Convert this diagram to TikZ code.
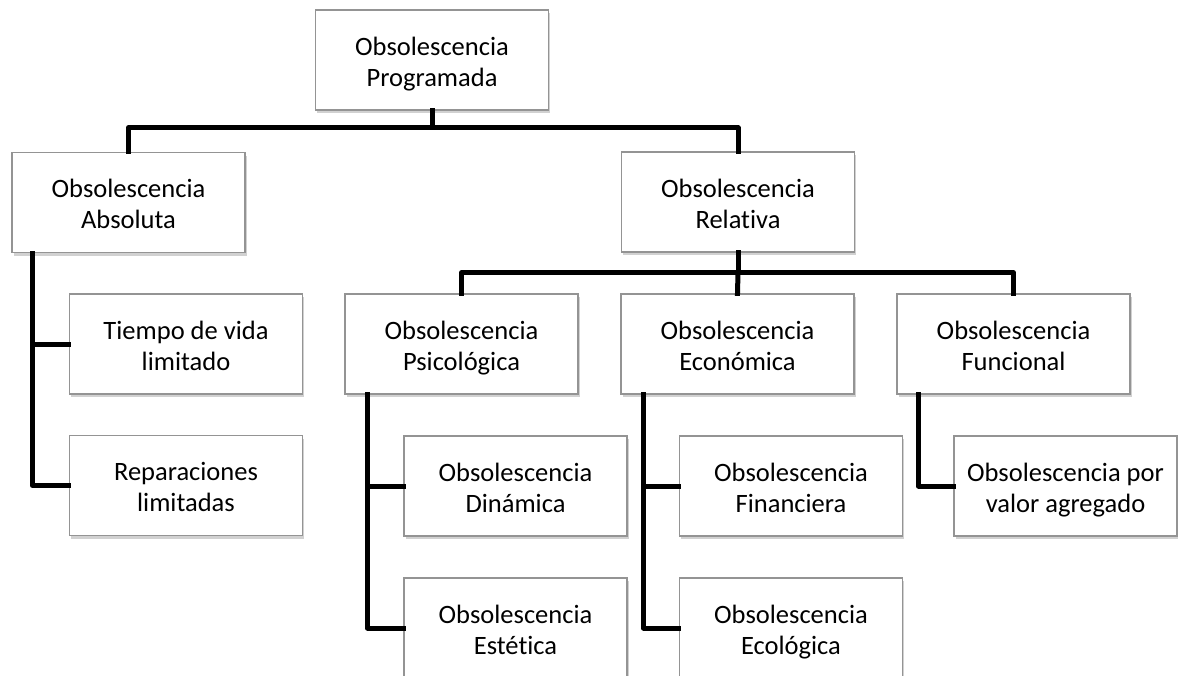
\documentclass[tikz,border=0pt]{standalone}
\usepackage{fontspec}
\setmainfont{Carlito}[RawFeature=-liga]
\usetikzlibrary{shadows}
\begin{document}
\begin{tikzpicture}[x=1pt,y=-1pt,
  box/.style={draw=black!42, line width=1.3pt, fill=white,
    minimum width=233pt, minimum height=100pt, align=center,
    inner sep=0pt, font=\fontsize{26.5}{31}\selectfont,
    text height=54pt, text depth=2pt,
    drop shadow={shadow xshift=1.5pt, shadow yshift=-3pt, opacity=0.3, fill=black!60}},
  narrow/.style={box, minimum width=223pt},
  link/.style={line width=5pt, line join=round, line cap=rect}]
\useasboundingbox (0,0) rectangle (1178,675);
\clip (0,0) rectangle (1178,675);

% hierarchy boxes
\node[box] (top) at (432,60) {Obsolescencia\\Programada};
\node[box] (abs) at (128.5,202.5) {Obsolescencia\\Absoluta};
\node[box] (rel) at (738,202) {Obsolescencia\\Relativa};
\node[box] (vida) at (186,344) {Tiempo de vida\\limitado};
\node[box] (rep) at (186,485.5) {Reparaciones\\limitadas};
\node[box] (psi) at (461.5,344) {Obsolescencia\\Psicológica};
\node[box] (eco) at (737.5,344) {Obsolescencia\\Económica};
\node[box] (fun) at (1013.5,344) {Obsolescencia\\Funcional};
\node[narrow] (din) at (515.5,486) {Obsolescencia\\Dinámica};
\node[narrow] (est) at (515.5,628) {Obsolescencia\\Estética};
\node[narrow] (fin) at (791,486) {Obsolescencia\\Financiera};
\node[narrow] (ecol) at (791,628) {Obsolescencia\\Ecológica};
\node[narrow] (val) at (1065.5,486) {Obsolescencia por\\valor agregado};

% first level bar
\draw[link] (top.south) -- ++(0,17) coordinate (b1) -| (abs.north);
\draw[link] (b1) -| (rel.north);

% second level bar
\draw[link] (rel.south) -- ++(0,20) coordinate (b2) -| (psi.north);
\draw[link] (b2) -| (fun.north);
\draw[link] (b2) -- (eco.north);

% side branches
\draw[link] ([xshift=21pt]abs.south west) |- (vida.west);
\draw[link] ([xshift=21pt]abs.south west) |- (rep.west);
\draw[link] ([xshift=23pt]psi.south west) |- (din.west);
\draw[link] ([xshift=23pt]psi.south west) |- (est.west);
\draw[link] ([xshift=23pt]eco.south west) |- (fin.west);
\draw[link] ([xshift=23pt]eco.south west) |- (ecol.west);
\draw[link] ([xshift=22pt]fun.south west) |- (val.west);
\end{tikzpicture}
\end{document}
